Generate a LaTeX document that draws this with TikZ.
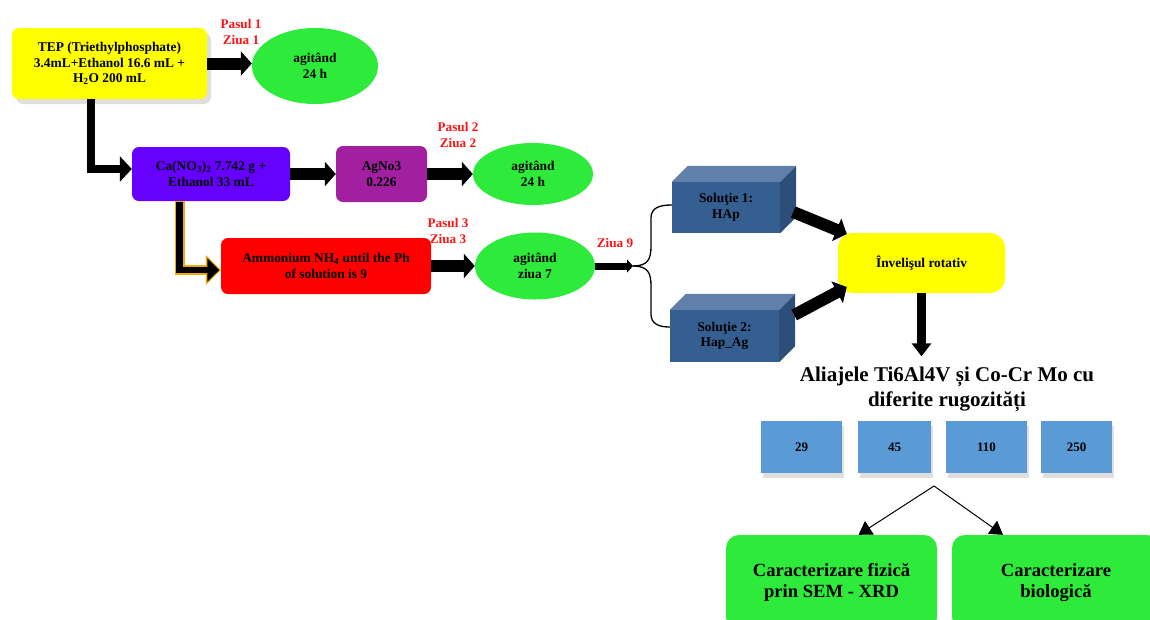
\documentclass[tikz,border=0pt]{standalone}
\usepackage{fontspec}
\setmainfont{Liberation Serif}
\usepackage{tikz}
\usetikzlibrary{arrows.meta,calc,positioning,shadows,shapes.geometric}
\definecolor{tepyellow}{RGB}{255,255,0}
\definecolor{caviolet}{RGB}{102,0,255}
\definecolor{agpurple}{RGB}{162,32,160}
\definecolor{stirgreen}{RGB}{46,234,58}
\definecolor{nhred}{RGB}{255,0,0}
\definecolor{steplabel}{RGB}{255,20,20}
\definecolor{edgeorange}{RGB}{240,170,0}
\definecolor{cubefront}{RGB}{54,95,145}
\definecolor{cubetopc}{RGB}{96,128,170}
\definecolor{cubesidec}{RGB}{44,78,120}
\definecolor{roughblue}{RGB}{91,155,213}
\newcommand{\boxfont}{\fontsize{13.4}{15.5}\selectfont\bfseries}
\tikzset{
  stepbox/.style={rounded corners=7pt,align=center,inner sep=2pt,font=\boxfont},
  stirnode/.style={ellipse,fill=stirgreen,align=center,inner sep=0pt,font=\boxfont},
  cubebox/.style={fill=cubefront,align=center,inner sep=0pt,font=\boxfont},
  cubetop/.style={fill=cubetopc},
  cubeside/.style={fill=cubesidec},
  roughbox/.style={fill=roughblue,inner sep=0pt,minimum height=52pt,
    font=\fontsize{13}{15}\selectfont\bfseries,
    drop shadow={shadow xshift=2pt,shadow yshift=-5pt,opacity=.25}},
  charbox/.style={fill=stirgreen,rounded corners=13pt,align=center,inner sep=0pt,
    minimum height=95pt,font=\fontsize{18.6}{21}\selectfont\bfseries},
  steptext/.style={text=steplabel,align=center,inner sep=0pt,
    font=\fontsize{13.2}{16}\selectfont\bfseries},
  bigflow/.style={-{Triangle[length=11pt,width=24pt]},line width=12pt},
  elbowflow/.style={-{Triangle[length=12pt,width=25pt]},line width=8pt},
  thinflow/.style={-{Triangle[length=13pt,width=16pt]},line width=1pt},
  branch/.style={line width=1.3pt}
}
\newcommand{\cuboid}[1]{%
  \fill[cubetop] (#1.north west) -- ++(16,-16) -- ([shift={(16,-16)}]#1.north east)
    -- (#1.north east) -- cycle;
  \fill[cubeside] (#1.north east) -- ++(16,-16) -- ([shift={(16,-16)}]#1.south east)
    -- (#1.south east) -- cycle;}

\begin{document}
\begin{tikzpicture}[x=1pt,y=-1pt]
  \clip (0,0) rectangle (1150,619);
  \node[stepbox,fill=tepyellow,minimum width=195pt,minimum height=71pt,
    drop shadow={shadow xshift=4pt,shadow yshift=-5pt,opacity=.25}] (tep) at (109.5,63.5)
    {TEP (Triethylphosphate)\\3.4mL+Ethanol 16.6 mL +\\H\textsubscript{2}O 200 mL};
  \node[stirnode,minimum width=126pt,minimum height=76pt] (stir1) at (315,66) {agitând\\24 h};
  \node[steptext] (lab1) at (241,32) {Pasul 1\\Ziua 1};

  \node[stepbox,fill=caviolet,minimum width=158pt,minimum height=54pt] (cano) at (211,174)
    {Ca(NO\textsubscript{3})\textsubscript{2} 7.742 g +\\Ethanol 33 mL};
  \node[stepbox,fill=agpurple,minimum width=91pt,minimum height=56pt] (agno) at (381.5,174)
    {AgNo3\\0.226};
  \node[stirnode,minimum width=120pt,minimum height=62pt] (stir2) at (533,174) {agitând\\24 h};
  \node[steptext] (lab2) at (458,134.5) {Pasul 2\\Ziua 2};

  \node[stepbox,fill=nhred,minimum width=210pt,minimum height=56pt] (ammon) at (326,266)
    {Ammonium NH\textsubscript{4} until the Ph\\of solution is 9};
  \node[stirnode,minimum width=120pt,minimum height=67pt] (stir3) at (535,266) {agitând\\ziua 7};
  \node[steptext] (lab3) at (448,230.5) {Pasul 3\\Ziua 3};
  \node[steptext] (lab9) at (615,243) {Ziua 9};
  \coordinate (split) at (633,266);

  \node[cubebox,minimum width=108pt,minimum height=51pt] (sol1) at (726,207.5) {Soluţie 1:\\HAp};
  \node[cubebox,minimum width=109pt,minimum height=52pt] (sol2) at (724.5,336) {Soluţie 2:\\Hap\_Ag};
  \cuboid{sol1}
  \cuboid{sol2}
  \node[stepbox,fill=tepyellow,rounded corners=15pt,minimum width=167pt,minimum height=60pt]
    (coat) at (921.5,263) {Învelişul rotativ};

  \node[align=center,inner sep=2pt,font=\fontsize{21}{25}\selectfont\bfseries] (alloy)
    at (947,389) {Aliajele Ti6Al4V și Co-Cr Mo cu\\diferite rugozități};
  \node[roughbox,minimum width=81pt] (r29) at (801.5,447) {29};
  \node[roughbox,minimum width=73pt] (r45) at (894.5,447) {45};
  \node[roughbox,minimum width=81pt] (r110) at (986.5,447) {110};
  \node[roughbox,minimum width=71pt] (r250) at (1076.5,447) {250};
  \coordinate (fork) at (934,486);
  \node[charbox,minimum width=211pt] (phys) at (831.5,582.5)
    {Caracterizare fizică\\prin SEM - XRD};
  \node[charbox,minimum width=208pt] (bio) at (1056,582.5) {Caracterizare\\biologică};

  \draw[bigflow] (tep.east) -- (tep.east -| stir1.west);
  \draw[elbowflow] ([xshift=-19pt]tep.south) |- ([yshift=5pt]cano.west);
  \draw[bigflow] (cano.east) -- (agno.west);
  \draw[bigflow] (agno.east) -- (agno.east -| stir2.west);
  \draw[elbowflow,draw=edgeorange,line width=10pt,
    -{Triangle[length=15pt,width=29pt,fill=edgeorange]}]
    ([xshift=-31.5pt]cano.south) |- ([yshift=-4pt]ammon.west);
  \draw[elbowflow,line width=6.5pt,-{Triangle[length=12pt,width=23pt]},shorten >=1.5pt]
    ([xshift=-31.5pt,yshift=-1pt]cano.south) |- ([yshift=-4pt]ammon.west);
  \draw[bigflow] (ammon.east) -- (ammon.east -| stir3.west);
  \draw[-{Triangle[length=6pt,width=13pt]},line width=7pt] (stir3.east) -- (split);
  \draw[branch] (split) .. controls (648,266) and (651,259) .. (651,246) -- (651,218)
    .. controls (651,208) and (659,205) .. ([yshift=2.5pt]sol1.west);
  \draw[branch] (split) .. controls (648,266) and (651,273) .. (651,286) -- (651,314)
    .. controls (651,324) and (659,327) .. ([yshift=9pt]sol2.west);
  \draw[bigflow] ([shift={(13,4.5)}]sol1.east) -- ([shift={(9,-29)}]coat.west);
  \draw[bigflow] ([shift={(15,-21)}]sol2.east) -- ([shift={(9,24)}]coat.west);
  \draw[-{Triangle[length=13pt,width=19pt]},line width=9pt,shorten >=8pt]
    (coat.south) -- (coat.south |- alloy.north);
  \draw[thinflow] (fork) -- ([xshift=27pt]phys.north);
  \draw[thinflow] (fork) -- ([xshift=-53pt]bio.north);
\end{tikzpicture}
\end{document}
